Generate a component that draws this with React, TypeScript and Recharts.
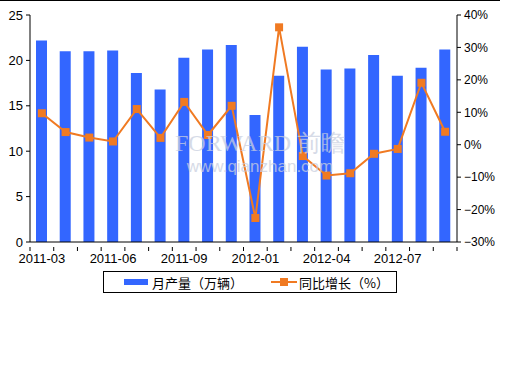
import React from 'react';
import { ComposedChart, Bar, Line, XAxis, YAxis } from 'recharts';

// months shown on the category axis (2011-12 is merged into 2012-01)
const months = [
    '2011-03', '2011-04', '2011-05', '2011-06', '2011-07', '2011-08', '2011-09', '2011-10', '2011-11',
    '2012-01', '2012-02', '2012-03', '2012-04', '2012-05', '2012-06', '2012-07', '2012-08', '2012-09',
];
// monthly output, 10k vehicles
const output = [22.2, 21.0, 21.0, 21.1, 18.6, 16.8, 20.3, 21.2, 21.7, 14.0, 18.3, 21.5, 19.0, 19.1, 20.6, 18.3, 19.2, 21.2];
// year-on-year growth, %
const growth = [9.7, 3.9, 2.2, 1.0, 11.0, 2.1, 13.2, 3.0, 12.0, -22.6, 36.2, -3.5, -9.5, -8.8, -2.8, -1.3, 19.1, 4.0];

const leftTicks = [0, 5, 10, 15, 20, 25];
const rightTicks = [-30, -20, -10, 0, 10, 20, 30, 40];

const BLUE = '#3366ff';
const ORANGE = '#f07a22';
const FONT = '"Liberation Sans", Arial, sans-serif';

const data = months.map((m, i) => ({ month: m, output: output[i], growth: growth[i] }));

const BAND = 427 / months.length;

const MonthTick = ({ x, y, payload, index }: any) => {
    const left = x - BAND / 2;
    return (
        <g>
            <line x1={left} y1={y - 3} x2={left} y2={y + 1} stroke="#000" />
            {index === months.length - 1 && (
                <line x1={left + BAND} y1={y - 3} x2={left + BAND} y2={y + 1} stroke="#000" />
            )}
            {index % 3 === 0 && (
                <text x={x} y={y + 13} textAnchor="middle" fontSize={13} fill="#000" fontFamily={FONT}>
                    {payload.value}
                </text>
            )}
        </g>
    );
};

const SquareDot = ({ cx, cy }: any) => (
    <rect x={cx - 4} y={cy - 4} width={8} height={8} fill={ORANGE} />
);

const LegendBox = () => (
    <div
        style={{
            position: 'absolute',
            left: 103,
            top: 271,
            border: '1px solid #000',
            width: 292,
            height: 20,
            display: 'flex',
            alignItems: 'center',
            fontSize: 13,
            fontFamily: '"Noto Sans CJK SC", sans-serif',
            background: '#fff',
        }}
    >
        <span style={{ width: 24, height: 6, background: BLUE, marginLeft: 20, marginRight: 4 }} />
        <span>月产量（万辆）</span>
        <svg width={26} height={10} style={{ marginLeft: 28, marginRight: 2 }}>
            <line x1={0} y1={5} x2={26} y2={5} stroke={ORANGE} strokeWidth={2} />
            <rect x={9} y={1} width={8} height={8} fill={ORANGE} />
        </svg>
        <span>同比增长（%）</span>
    </div>
);

export default function App() {
    return (
        <div style={{ position: 'relative', width: 512, height: 384, background: '#fff' }}>
            <style>{'body{margin:0}'}</style>
            <div style={{ position: 'absolute', left: 0, top: 0, width: 500, borderTop: '1px solid #000' }} />
            <ComposedChart
                width={512}
                height={384}
                data={data}
                margin={{ top: 15, right: 0, bottom: 112, left: 0 }}
            >
                <XAxis
                    dataKey="month"
                    interval={0}
                    tickLine={false}
                    axisLine={{ stroke: '#000' }}
                    tick={<MonthTick />}
                    height={30}
                />
                <YAxis
                    yAxisId="left"
                    domain={[0, 25]}
                    ticks={leftTicks}
                    width={30}
                    tickSize={4}
                    tickMargin={3}
                    axisLine={{ stroke: '#000' }}
                    tickLine={{ stroke: '#000' }}
                    tick={{ fill: '#000', fontSize: 13, fontFamily: FONT }}
                />
                <YAxis
                    yAxisId="right"
                    orientation="right"
                    domain={[-30, 40]}
                    ticks={rightTicks}
                    width={55}
                    tickSize={4}
                    tickMargin={3}
                    tickFormatter={(v: number) => (v < 0 ? `−${-v}%` : `${v}%`)}
                    axisLine={{ stroke: '#000' }}
                    tickLine={{ stroke: '#000' }}
                    tick={{ fill: '#000', fontSize: 12, fontFamily: FONT }}
                />
                <Bar yAxisId="left" dataKey="output" name="月产量（万辆）" fill={BLUE} barSize={11} isAnimationActive={false} />
                <Line
                    yAxisId="right"
                    dataKey="growth"
                    name="同比增长（%）"
                    stroke={ORANGE}
                    strokeWidth={2}
                    dot={<SquareDot />}
                    activeDot={false}
                    isAnimationActive={false}
                />
            </ComposedChart>
            <div
                style={{
                    position: 'absolute',
                    left: 160,
                    top: 132,
                    width: 200,
                    textAlign: 'center',
                    color: '#c9cfe0',
                    lineHeight: '22px',
                    pointerEvents: 'none',
                    opacity: 0.75,
                }}
            >
                <div style={{ fontSize: 24, fontFamily: '"Liberation Serif", serif', height: 24 }}>FORWARD 前瞻</div>
                <div style={{ fontSize: 17, fontFamily: FONT }}>www.qianzhan.com</div>
            </div>
            <LegendBox />
        </div>
    );
}
